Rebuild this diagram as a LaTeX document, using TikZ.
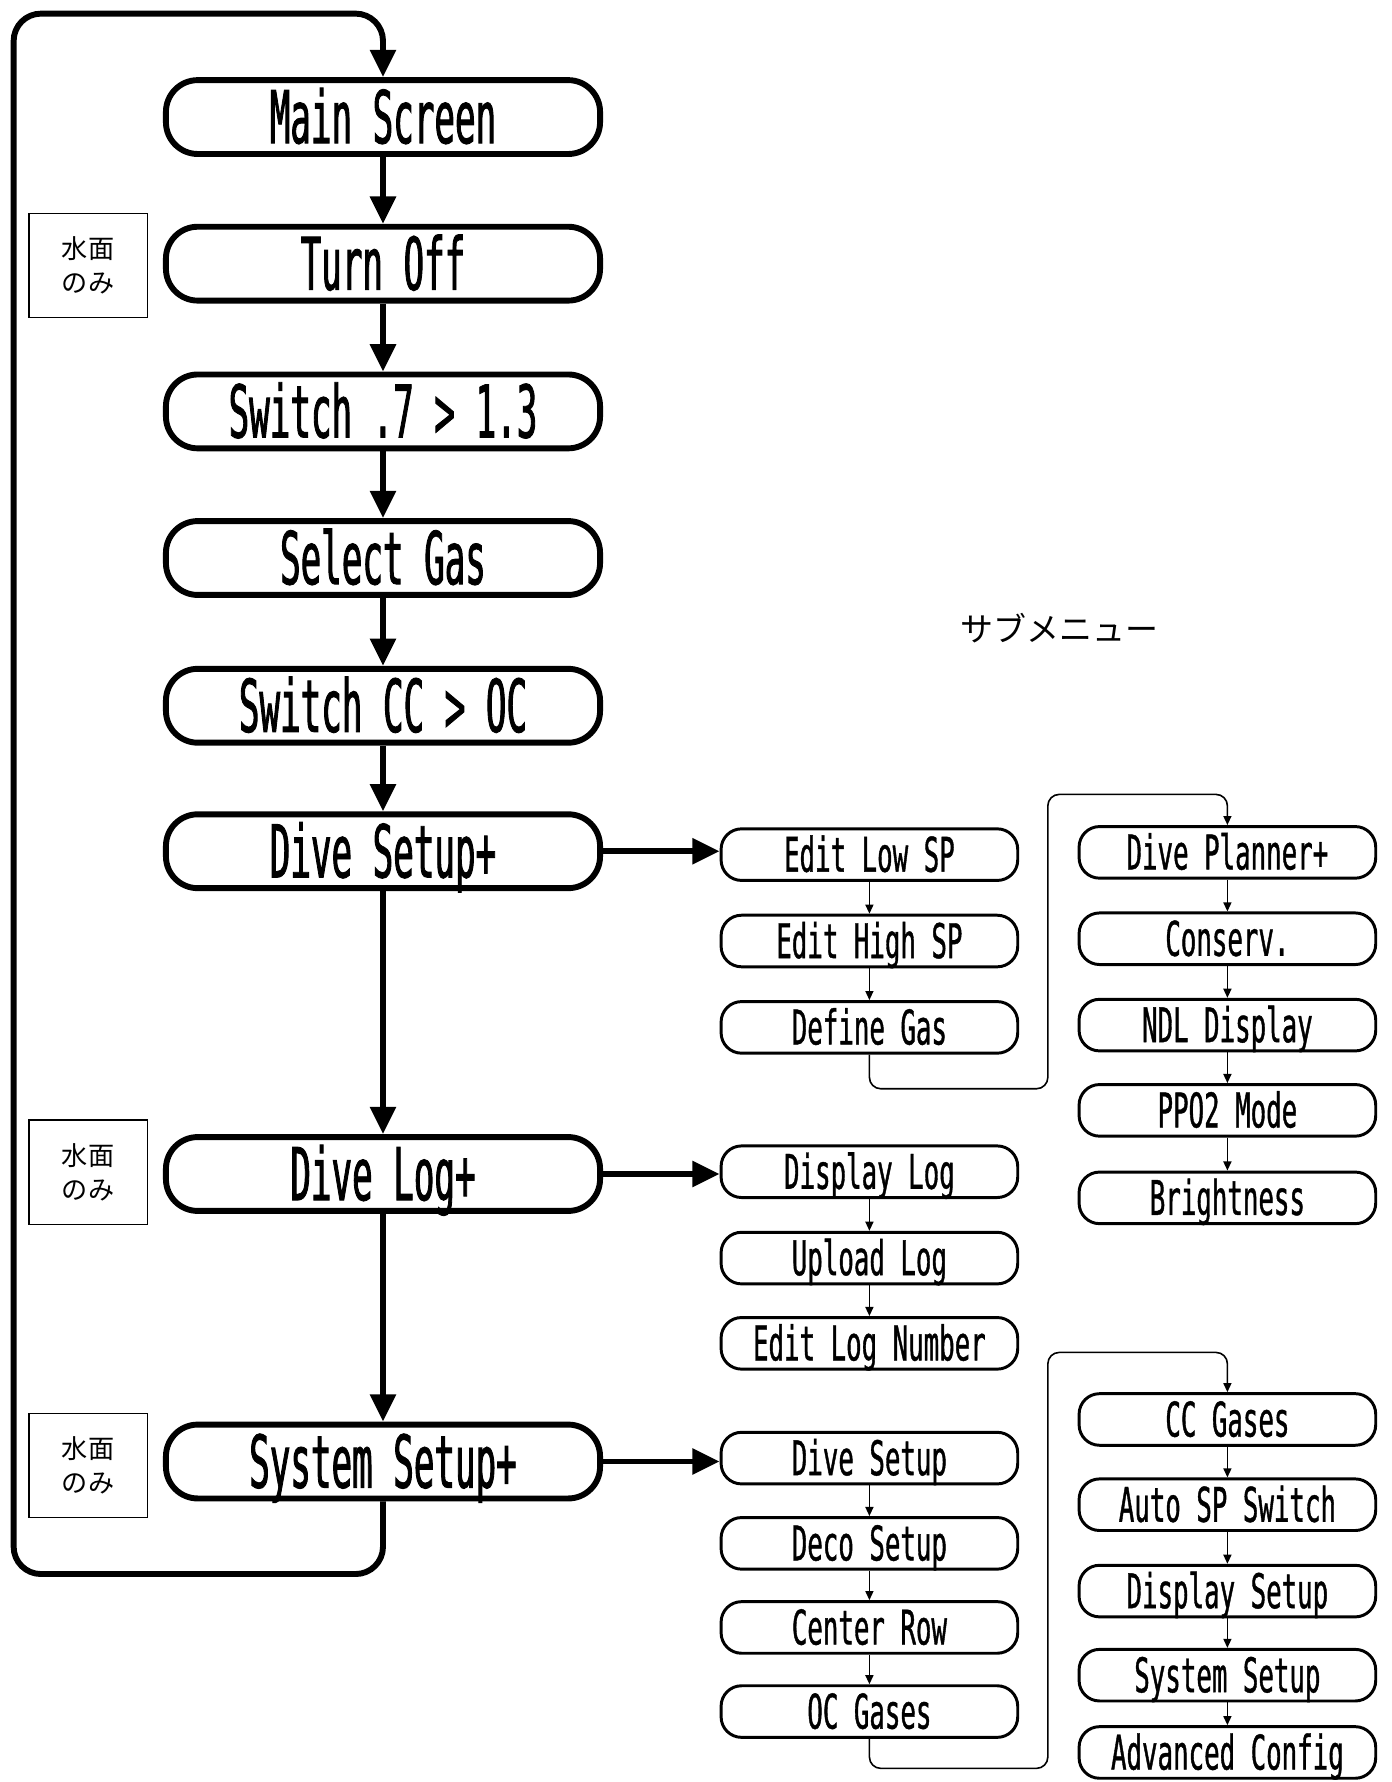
\documentclass[tikz,border=0pt]{standalone}
\usepackage{fontspec}
\usetikzlibrary{arrows.meta}
\newfontfamily\mainfnt[FakeStretch=0.47,FakeBold=1.2]{DejaVu Sans Mono}
\newfontfamily\subfnt[FakeStretch=0.54,FakeBold=0.8]{DejaVu Sans Mono}
\newfontfamily\jpfnt{Noto Sans CJK JP}
\tikzset{
  mainbox/.style={draw, line width=2.6pt, rounded corners=14pt, minimum width=191pt, minimum height=32.5pt, inner sep=0pt, text height=23pt, text depth=0pt, font=\mainfnt\fontsize{32}{32}\selectfont},
  subbox/.style={draw, line width=1.3pt, rounded corners=9pt, minimum width=130.5pt, minimum height=22.7pt, inner sep=0pt, text height=15pt, text depth=0pt, font=\subfnt\fontsize{21}{21}\selectfont},
  notebox/.style={draw, line width=0.5pt, minimum width=52pt, minimum height=46pt, inner sep=0pt, align=center, font=\jpfnt\fontsize{11.5}{15}\selectfont},
  bigarrow/.style={line width=2.6pt, -{Triangle[width=11pt,length=12pt]}},
  loopline/.style={line width=2.6pt, rounded corners=12pt},
  smallarrow/.style={line width=0.7pt, -{Triangle[width=3.5pt,length=4pt]}},
  thinline/.style={line width=0.7pt, rounded corners=5pt, -{Triangle[width=3.5pt,length=4pt]}}
}
\begin{document}
\begin{tikzpicture}[x=0.5pt,y=-0.5pt]
\useasboundingbox (0,0) rectangle (1224,1568);
% main column
\node[mainbox] (ms) at (337,103) {Main Screen};
\node[mainbox] (to) at (337,232) {Turn Off};
\node[mainbox] (sw) at (337,362) {Switch .7 > 1.3};
\node[mainbox] (sg) at (337,491) {Select Gas};
\node[mainbox] (sc) at (337,621) {Switch CC > OC};
\node[mainbox] (ds) at (337,749) {Dive Setup+};
\node[mainbox] (dl) at (337,1033) {Dive Log+};
\node[mainbox] (ss) at (337,1286) {System Setup+};
% notes
\node[notebox] (n1) at (77.5,233.5) {水面\\のみ};
\node[notebox] (n2) at (77.5,1031.5) {水面\\のみ};
\node[notebox] (n3) at (77.5,1289.5) {水面\\のみ};
\node[font=\jpfnt\fontsize{14.5}{14.5}\selectfont] (sub) at (932,553) {サブメニュー};
% submenu column 1
\node[subbox] (el) at (765,752) {Edit Low SP};
\node[subbox] (eh) at (765,828) {Edit High SP};
\node[subbox] (dg) at (765,904) {Define Gas};
\node[subbox] (dpl) at (765,1031) {Display Log};
\node[subbox] (ul) at (765,1107) {Upload Log};
\node[subbox] (eln) at (765,1182) {Edit Log Number};
\node[subbox] (dsu) at (765,1283) {Dive Setup};
\node[subbox] (dcs) at (765,1358) {Deco Setup};
\node[subbox] (cr) at (765,1432) {Center Row};
\node[subbox] (ocg) at (765,1506) {OC Gases};
% submenu column 2
\node[subbox] (dp) at (1080,750) {Dive Planner+};
\node[subbox] (cons) at (1080,826) {Conserv.};
\node[subbox] (ndl) at (1080,902) {NDL Display};
\node[subbox] (ppo) at (1080,977) {PPO2 Mode};
\node[subbox] (br) at (1080,1054) {Brightness};
\node[subbox] (ccg) at (1080,1249) {CC Gases};
\node[subbox] (asp) at (1080,1324) {Auto SP Switch};
\node[subbox] (dset) at (1080,1400) {Display Setup};
\node[subbox] (sset) at (1080,1474) {System Setup};
\node[subbox] (adv) at (1080,1542) {Advanced Config};
% main arrows
\draw[bigarrow] (ms) -- (to);
\draw[bigarrow] (to) -- (sw);
\draw[bigarrow] (sw) -- (sg);
\draw[bigarrow] (sg) -- (sc);
\draw[bigarrow] (sc) -- (ds);
\draw[bigarrow] (ds) -- (dl);
\draw[bigarrow] (dl) -- (ss);
\draw[loopline, -{Triangle[width=11pt,length=12pt]}] (ss.south) -- (337,1385) -- (12,1385) -- (12,12) -- (337,12) -- (ms.north);
\draw[bigarrow] (ds.east) -- (ds.east -| el.west);
\draw[bigarrow] (dl.east) -- (dl.east -| dpl.west);
\draw[bigarrow] (ss.east) -- (ss.east -| dsu.west);
% submenu arrows
\draw[smallarrow] (el) -- (eh);
\draw[smallarrow] (eh) -- (dg);
\draw[smallarrow] (dpl) -- (ul);
\draw[smallarrow] (ul) -- (eln);
\draw[smallarrow] (dsu) -- (dcs);
\draw[smallarrow] (dcs) -- (cr);
\draw[smallarrow] (cr) -- (ocg);
\draw[smallarrow] (dp) -- (cons);
\draw[smallarrow] (cons) -- (ndl);
\draw[smallarrow] (ndl) -- (ppo);
\draw[smallarrow] (ppo) -- (br);
\draw[smallarrow] (ccg) -- (asp);
\draw[smallarrow] (asp) -- (dset);
\draw[smallarrow] (dset) -- (sset);
\draw[smallarrow] (sset) -- (adv);
\draw[thinline] (dg.south) -- (765,958) -- (922,958) -- (922,699) -- (1080,699) -- (dp.north);
\draw[thinline] (ocg.south) -- (765,1556) -- (922,1556) -- (922,1190) -- (1080,1190) -- (ccg.north);
\end{tikzpicture}
\end{document}
